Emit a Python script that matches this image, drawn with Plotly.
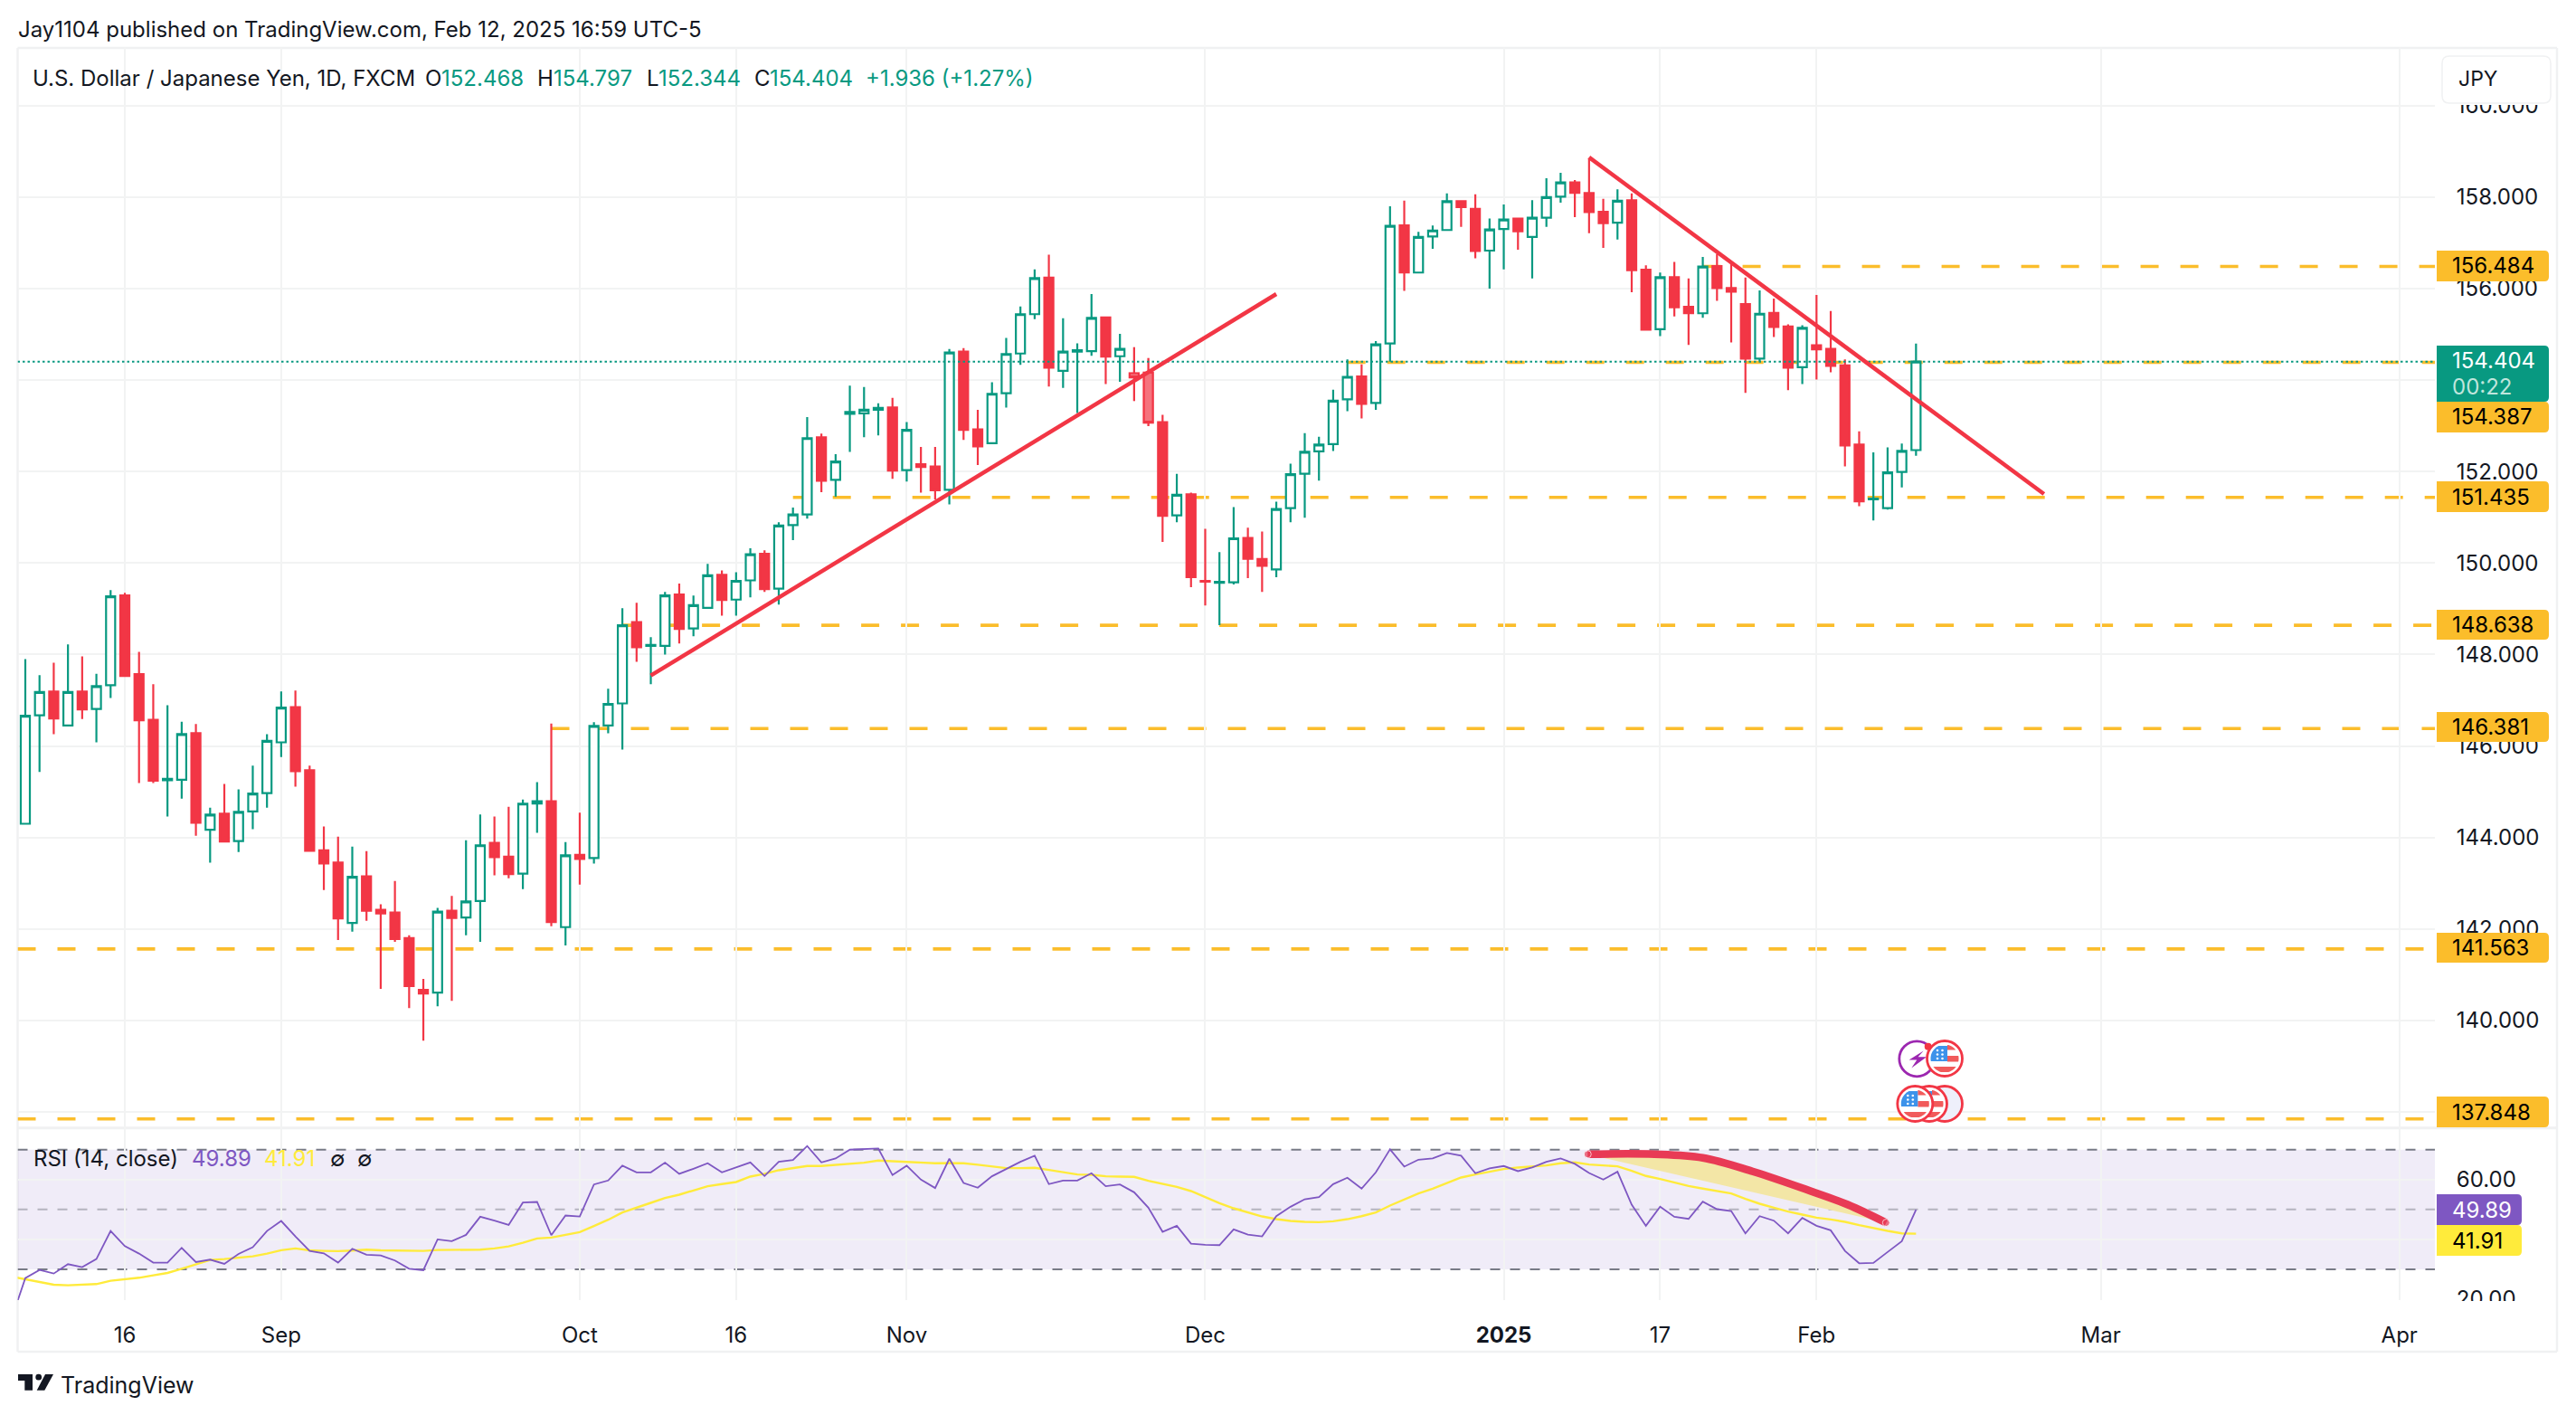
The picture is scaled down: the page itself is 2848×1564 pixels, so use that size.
import math
import plotly.graph_objects as go

W, H = 2848, 1564
# --- data (one bar per FX session, Aug 7 2024 - Feb 12 2025)
opens = [144.30,146.67,147.19,146.45,147.19,146.81,147.33,149.29,147.57,146.57,
145.25,145.26,146.28,144.17,144.52,143.92,144.57,144.97,146.08,146.85,
145.47,143.72,143.45,142.13,143.15,142.42,142.36,141.80,140.67,140.61,
142.40,142.25,142.61,143.88,143.58,143.21,144.74,144.79,142.04,143.62,
143.55,146.45,146.93,148.71,148.19,148.19,149.31,148.57,149.02,149.74,
149.20,149.62,150.20,149.44,150.83,151.06,152.75,151.82,153.26,153.27,
153.35,153.40,152.03,152.16,152.11,151.60,154.62,152.92,152.62,153.71,
154.58,155.44,156.24,154.20,154.62,154.63,155.37,154.52,154.15,154.16,
153.08,151.04,151.50,149.61,149.57,149.58,150.55,150.09,149.86,151.20,
151.95,152.44,152.60,153.58,154.08,153.50,154.80,157.38,156.35,157.14,
157.28,157.91,157.74,156.83,157.30,157.53,157.13,157.55,158.01,158.32,
158.09,157.68,157.44,157.93,156.41,155.11,156.25,155.60,155.46,156.49,
156.01,155.66,154.47,155.47,155.17,154.28,154.76,154.68,154.32,152.59,
151.39,151.20,151.99,152.468]
highs = [147.90,147.55,147.82,148.22,147.96,147.58,149.41,149.35,148.06,147.35,
146.89,146.53,146.48,144.65,145.17,145.05,145.57,146.26,147.19,147.21,
145.57,144.24,144.02,143.80,143.70,142.54,143.05,141.86,140.91,142.46,
142.72,143.94,144.50,144.46,144.67,144.83,145.21,146.49,143.90,144.54,
146.52,147.25,149.01,149.13,148.38,149.37,149.55,149.29,149.98,149.84,
149.80,150.32,150.28,150.89,151.21,153.19,152.83,152.38,153.88,153.85,
153.49,153.61,153.08,152.54,152.54,154.68,154.70,153.35,153.95,154.92,
155.61,156.42,156.74,155.35,154.80,155.88,155.39,155.01,154.72,154.48,
153.24,151.95,151.54,150.75,150.24,151.22,150.77,150.69,151.34,152.17,
152.84,152.76,153.79,154.45,154.34,154.85,157.80,157.92,157.24,157.38,
158.08,157.93,158.06,157.53,157.84,157.54,157.93,158.41,158.53,158.37,
158.85,157.96,158.17,158.08,156.51,156.35,156.58,156.22,156.69,156.75,
156.55,156.24,155.96,155.78,155.22,155.20,155.86,155.51,154.45,152.88,
152.42,152.53,152.61,154.797]
lows = [144.28,145.43,146.26,146.43,146.59,146.08,147.05,147.52,145.19,145.19,
144.46,144.85,144.04,143.45,143.90,143.68,144.18,144.65,145.76,145.11,
143.70,142.85,141.76,141.94,142.18,140.69,141.72,140.27,139.56,140.31,
140.43,141.86,141.72,143.17,143.11,142.87,144.10,142.06,141.64,142.97,
143.43,146.28,145.92,147.84,147.35,148.00,148.24,148.40,149.00,148.85,
148.85,149.25,149.37,149.09,150.50,150.97,151.55,151.45,152.43,152.75,
152.79,151.84,151.78,151.54,151.39,151.28,152.69,152.14,152.60,153.40,
154.33,155.33,153.86,153.83,153.28,154.53,153.91,153.96,153.54,152.99,
150.46,150.89,149.47,149.07,148.64,149.53,149.67,149.37,149.69,150.89,
150.99,151.80,152.45,153.32,153.16,153.35,154.40,155.95,156.33,156.87,
157.26,157.35,156.66,156.00,156.42,156.85,156.22,157.35,157.88,157.56,
157.21,156.89,157.07,155.92,155.09,154.96,155.39,154.77,155.36,155.73,
154.82,153.72,154.41,154.94,153.78,153.91,154.01,154.17,152.11,151.24,
150.93,151.17,151.65,152.344]
closes = [146.66,147.18,146.60,147.18,146.80,147.31,149.27,147.53,146.56,145.24,
145.28,146.26,144.32,144.50,143.91,144.56,144.96,146.11,146.84,145.45,
143.71,143.43,142.23,143.14,142.40,142.34,141.78,140.75,140.59,142.38,
142.24,142.60,143.83,143.57,143.20,144.74,144.79,142.15,143.61,143.53,
146.44,146.92,148.64,148.16,148.21,149.29,148.56,149.08,149.73,149.19,
149.61,150.19,149.43,150.82,151.06,152.73,151.80,152.22,153.30,153.35,
153.39,152.02,152.91,152.10,151.59,154.60,152.91,152.55,153.70,154.57,
155.44,156.23,154.27,154.62,154.65,155.36,154.51,154.68,154.06,153.07,
151.03,151.49,149.69,149.59,149.59,150.54,150.09,149.94,151.18,151.94,
152.43,152.59,153.55,154.07,153.48,154.78,157.37,156.35,157.13,157.27,
157.91,157.78,156.82,157.29,157.51,157.25,157.55,158.00,158.32,158.09,
157.67,157.43,157.92,156.40,155.10,156.25,155.59,155.46,156.48,156.01,
155.93,154.47,155.45,155.16,154.27,155.14,154.67,154.31,152.57,151.35,
151.41,151.98,152.45,154.404]
rsi = [13.0,27.07,29.79,28.58,31.71,30.70,33.43,42.82,37.77,35.25,32.22,
32.22,37.17,32.42,33.23,31.81,35.15,37.37,42.82,46.16,41.01,
36.16,35.35,32.22,36.86,34.84,34.64,32.93,30.20,29.69,40.00,
39.39,41.51,47.57,46.26,44.84,52.32,52.52,41.41,47.98,47.67,
58.38,59.69,64.64,62.42,62.42,65.65,61.92,63.63,65.45,62.42,
64.04,65.75,61.21,65.96,66.56,71.21,65.75,67.07,70.00,70.30,
70.40,61.51,64.64,60.00,57.17,66.97,58.88,57.27,61.11,63.53,
65.96,67.98,58.48,59.69,59.69,62.12,57.77,58.38,55.75,50.60,
42.52,44.54,38.58,38.18,38.08,43.33,41.61,41.01,47.77,50.91,
53.43,54.14,58.48,60.60,56.97,62.42,70.10,64.34,66.66,67.07,
68.88,67.98,62.12,63.73,64.54,62.82,64.04,65.96,67.07,65.25,
62.22,60.00,62.62,51.61,44.54,50.91,47.57,46.86,52.62,50.10,
49.49,42.02,47.77,46.26,42.02,47.17,44.55,43.03,36.16,32.02,
32.12,35.76,39.39,49.89]
rsi_ma = [27.6,26.66,25.85,24.84,24.64,24.74,25.05,26.16,26.56,27.17,27.98,
28.78,30.20,31.71,33.13,33.43,33.83,34.34,35.25,36.36,36.97,
36.36,36.16,36.06,36.26,36.56,36.36,36.36,36.16,36.16,36.46,
36.56,36.56,36.56,36.97,37.67,38.88,40.30,40.60,41.51,42.42,
44.44,46.56,48.99,50.50,52.22,53.83,54.95,56.36,57.77,58.48,
59.19,61.01,61.92,63.13,63.73,64.54,64.54,64.84,65.25,65.65,
66.36,66.16,66.06,65.85,65.45,65.55,65.45,64.95,64.44,63.83,
63.83,63.94,63.23,62.52,61.71,61.61,61.11,61.01,60.91,59.59,
58.48,57.57,56.16,54.04,52.12,50.40,48.99,47.67,46.76,46.16,
45.85,45.75,46.06,46.76,47.77,48.99,51.31,53.43,55.35,56.97,
58.78,60.70,61.71,62.72,63.53,64.04,64.34,64.74,65.45,65.75,
65.05,64.74,64.44,62.93,61.21,60.20,58.99,57.87,56.97,56.16,
55.35,53.53,51.92,50.60,49.29,48.28,47.27,46.67,45.86,44.75,
43.74,42.83,42.02,41.91]
tick_pos = [7,18,39,50,62,83,104,115,126,146,167]
tick_text = ["16","Sep","Oct","16","Nov","Dec","<b>2025</b>","17","Feb","Mar","Apr"]
levels = [156.484,154.387,151.435,148.638,146.381,141.563,137.848]
level_start = [118,93,54,42,37,-0.54,-0.54]
last_price = 154.404
hollow_red_bar = 78
up_trend_x, up_trend_y = [44,88], [147.54,155.88]
down_trend_x, down_trend_y = [110,142], [158.87,151.51]
brush_x = [109.9,114.6,118.0,121.5,125.5,128.2,130.9]
brush_y = [68.48,68.48,67.27,62.72,56.3,51.62,45.56]

GREEN, RED, AMBER, INK, GRID = "#089981", "#f23645", "#fbbd2b", "#131722", "#f2f3f3"
FONT = "Inter"
XR = [-0.54, 169.5]
px = lambda x: x / W
py = lambda y: 1 - y / H
idx = list(range(len(opens)))

fig = go.Figure()
fig.add_trace(go.Candlestick(x=idx, open=opens, high=highs, low=lows, close=closes,
    increasing=dict(line=dict(color=GREEN, width=2.2), fillcolor="#ffffff"),
    decreasing=dict(line=dict(color=RED, width=2.2), fillcolor=RED),
    whiskerwidth=0, xaxis="x", yaxis="y", hoverinfo="skip"))
hb = hollow_red_bar
fig.add_trace(go.Candlestick(x=idx[hb:hb+2], open=opens[hb:hb+2], high=highs[hb:hb+2], low=lows[hb:hb+2], close=closes[hb:hb+2],
    increasing=dict(line=dict(color="rgba(0,0,0,0)", width=0), fillcolor="rgba(0,0,0,0)"),
    decreasing=dict(line=dict(color=RED, width=2.2), fillcolor="#ffffff"),
    whiskerwidth=0, xaxis="x", yaxis="y", hoverinfo="skip", selectedpoints=[0]))
fig.add_trace(go.Scatter(x=XR, y=[last_price, last_price], mode="lines", xaxis="x", yaxis="y",
    line=dict(color=GREEN, width=2, dash="2.5px,3px"), hoverinfo="skip"))
for tx, ty in ((up_trend_x, up_trend_y), (down_trend_x, down_trend_y)):
    fig.add_trace(go.Scatter(x=tx, y=ty, mode="lines", xaxis="x", yaxis="y",
        line=dict(color=RED, width=4.5), hoverinfo="skip"))

rsi_x = [i - 1 for i in range(len(rsi))]
fig.add_trace(go.Scatter(x=brush_x + brush_x[:1], y=brush_y + brush_y[:1], mode="lines", fill="toself",
    fillcolor="#f3e6a6", line=dict(width=0), xaxis="x2", yaxis="y2", hoverinfo="skip"))
fig.add_trace(go.Scatter(x=rsi_x, y=rsi_ma, mode="lines", line=dict(color="#ffeb3b", width=2.4),
    xaxis="x2", yaxis="y2", hoverinfo="skip"))
fig.add_trace(go.Scatter(x=rsi_x, y=rsi, mode="lines", line=dict(color="#7e57c2", width=1.8),
    xaxis="x2", yaxis="y2", hoverinfo="skip"))
fig.add_trace(go.Scatter(x=brush_x, y=brush_y, mode="lines+markers", line=dict(color="#e83a55", width=8.5, shape="spline"),
    marker=dict(size=[8,0,0,0,0,0,8], color="#e83a55"), xaxis="x2", yaxis="y2", hoverinfo="skip"))

shapes = []
def frame(x0, y0, x1, y1, w=2.5):
    shapes.append(dict(type="line", xref="paper", yref="paper", x0=px(x0), y0=py(y0), x1=px(x1), y1=py(y1),
                       line=dict(color="#f0f1f2", width=w), layer="below"))
frame(19.5, 53, 2827, 53); frame(19.5, 1494, 2827, 1494); frame(19.5, 53, 19.5, 1494)
frame(2827, 53, 2827, 1494); frame(19.5, 1246.7, 2827, 1246.7, 3)

for lv, st in zip(levels, level_start):
    shapes.append(dict(type="line", xref="x", yref="y", x0=st, x1=XR[1], y0=lv, y1=lv, layer="below",
                       line=dict(color=AMBER, width=3.6, dash="20px,24px")))
shapes.append(dict(type="rect", xref="x2", yref="y2", x0=XR[0], x1=XR[1], y0=30, y1=70, layer="below",
                   fillcolor="rgba(126,87,194,0.115)", line=dict(width=0)))
for v, c in ((70, "#787b86"), (50, "#b5b4bf"), (30, "#787b86")):
    shapes.append(dict(type="line", xref="x2", yref="y2", x0=XR[0], x1=XR[1], y0=v, y1=v, layer="below",
                       line=dict(color=c, width=2, dash="11px,11px")))

def poly(pts, fill, line=None, lw=0):
    d = "M" + "L".join(f"{px(x):.6f},{py(y):.6f}" for x, y in pts) + "Z"
    shapes.append(dict(type="path", xref="paper", yref="paper", path=d, fillcolor=fill,
                       line=dict(color=line or fill, width=lw), layer="above"))
def disc(cx, cy, r, fill, line=None, lw=0):
    shapes.append(dict(type="circle", xref="paper", yref="paper", x0=px(cx-r), x1=px(cx+r), y0=py(cy+r), y1=py(cy-r),
                       fillcolor=fill, line=dict(color=line or fill, width=lw), layer="above"))
def tag(y0, y1, color, x1=2818, x0=2694, r=5):
    d = (f"M{px(x0)},{py(y0)}L{px(x1-r)},{py(y0)}Q{px(x1)},{py(y0)} {px(x1)},{py(y0+r)}"
         f"L{px(x1)},{py(y1-r)}Q{px(x1)},{py(y1)} {px(x1-r)},{py(y1)}L{px(x0)},{py(y1)}Z")
    shapes.append(dict(type="path", xref="paper", yref="paper", path=d, fillcolor=color, line=dict(width=0), layer="above"))

# clip areas of the scales
shapes.append(dict(type="rect", xref="paper", yref="paper", x0=px(2693), x1=px(2825), y0=py(1492), y1=py(1438),
                   fillcolor="#ffffff", line=dict(width=0), layer="above"))
shapes.append(dict(type="rect", xref="paper", yref="paper", x0=px(2694), x1=px(2825), y0=py(116), y1=py(56),
                   fillcolor="#ffffff", line=dict(width=0), layer="above"))
r = 8
d = (f"M{px(2700+r)},{py(62)}L{px(2820-r)},{py(62)}Q{px(2820)},{py(62)} {px(2820)},{py(62+r)}L{px(2820)},{py(114-r)}"
     f"Q{px(2820)},{py(114)} {px(2820-r)},{py(114)}L{px(2700+r)},{py(114)}Q{px(2700)},{py(114)} {px(2700)},{py(114-r)}"
     f"L{px(2700)},{py(62+r)}Q{px(2700)},{py(62)} {px(2700+r)},{py(62)}Z")
shapes.append(dict(type="path", xref="paper", yref="paper", path=d, fillcolor="#ffffff",
                   line=dict(color="#f0f1f2", width=1.5), layer="above"))

# price tags
tag(277, 311, AMBER); tag(382, 444, GREEN); tag(444, 478, AMBER); tag(532, 566, AMBER)
tag(674, 707, AMBER); tag(787, 820, AMBER); tag(1031, 1064, AMBER); tag(1212, 1246, AMBER)
tag(1320, 1354, "#7e57c2", x1=2788); tag(1354, 1388, "#ffeb3b", x1=2788)

# logo
poly([(20,1519),(36,1519),(36,1536.7),(27.3,1536.7),(27.3,1526),(20,1526)], INK)
disc(42.7, 1522.2, 3.4, INK)
poly([(50,1519),(59,1519),(49.3,1536.7),(40.7,1536.7)], INK)

# event markers
def clip_disc(cx, cy, rad, x0, x1, y0, y1, fill):
    top = max(y0, -rad); bot = min(y1, rad)
    ys = [top + (bot - top) * k / 12 for k in range(13)]
    left, right = [], []
    for y in ys:
        w = math.sqrt(max(rad * rad - y * y, 0))
        a, b = max(x0, -w), min(x1, w)
        if b > a:
            left.append((cx + a, cy + y)); right.append((cx + b, cy + y))
    poly(left + right[::-1], fill)
def flag(cx, cy):
    disc(cx, cy, 19.5, "#ffffff", RED, 2.8)
    rad = 15.5
    for a, b, x0 in ((-16, -9.5, 3), (-3, 3.5, 3), (9, 16, -16)):
        clip_disc(cx, cy, rad, x0, 16, a, b, "#f15b5b")
    clip_disc(cx, cy, rad, -16, 3, -16, 3, "#3d93ea")
    for sy in (-9, -4.5, 0):
        for sx in (-8, -2.5):
            disc(cx + sx, cy + sy, 1.3, "#ffffff")
disc(2119.3, 1170.3, 19.5, "#ffffff", "#9c27b0", 2.8)
poly([(2119.3+a, 1170.3+b) for a, b in ((7.3,-8.7),(-8.7,1.3),(0,1.3),(-6,10.3),(10.7,-2),(1.3,-2))], "#9c27b0")
disc(2131.7, 1156.7, 4, RED)
flag(2150, 1170)
disc(2150, 1220, 19.5, "#eef0fb", RED, 2.8)
flag(2133, 1220)
flag(2117.3, 1220)

ann = []
def txt(x, y, s, color=INK, size=24, anchor="left"):
    ann.append(dict(xref="paper", yref="paper", x=px(x), y=py(y), text=s, showarrow=False, xanchor=anchor,
                    yanchor="middle", font=dict(family=FONT, size=size, color=color), borderpad=0, borderwidth=0))
txt(20, 32, "Jay1104 published on TradingView.com, Feb 12, 2025 16:59 UTC-5")
txt(36, 86, "U.S. Dollar / Japanese Yen, 1D, FXCM")
for x0, lab, x1, val in ((470, "O", 488, "152.468"), (594, "H", 612, "154.797"), (715, "L", 728, "152.344"), (834, "C", 851, "154.404")):
    txt(x0, 86, lab); txt(x1, 86, val, GREEN)
txt(957, 86, "+1.936 (+1.27%)", GREEN)
txt(2718, 87, "JPY", INK, 23)
txt(2711, 294, "156.484", "#000000"); txt(2711, 398, "154.404", "#ffffff"); txt(2711, 427, "00:22", "#bfe5dc")
txt(2711, 461, "154.387", "#000000"); txt(2711, 549, "151.435", "#000000"); txt(2711, 690.5, "148.638", "#000000")
txt(2711, 803.5, "146.381", "#000000"); txt(2711, 1047.5, "141.563", "#000000"); txt(2711, 1229, "137.848", "#000000")
txt(2711, 1337, "49.89", "#ffffff"); txt(2711, 1371, "41.91", "#000000")
txt(37, 1280, "RSI (14, close)"); txt(212, 1280, "49.89", "#7e57c2"); txt(292, 1280, "41.91", "#ffeb3b")
txt(365, 1280, "∅"); txt(395, 1280, "∅")
txt(67, 1530.5, "TradingView", INK, 25)

xcommon = dict(range=XR, showgrid=True, gridcolor=GRID, gridwidth=2, zeroline=False, showline=False, automargin=False,
               tickmode="array", tickvals=tick_pos, ticktext=tick_text, domain=[px(19.5), px(2692)])
ycommon = dict(side="right", showgrid=True, gridcolor=GRID, gridwidth=2, zeroline=False, showline=False, automargin=False,
               ticks="outside", ticklen=18, tickcolor="rgba(0,0,0,0)", tickfont=dict(family=FONT, size=24, color=INK))
fig.update_layout(
    width=W, height=H, margin=dict(l=0, r=0, t=0, b=0), paper_bgcolor="#ffffff", plot_bgcolor="#ffffff",
    showlegend=False, boxgap=0.36, boxgroupgap=0, shapes=shapes, annotations=ann, hovermode=False,
    xaxis=dict(xcommon, anchor="y", showticklabels=False, ticks="", rangeslider=dict(visible=False)),
    xaxis2=dict(xcommon, anchor="y2", matches="x", ticks="outside", ticklen=17, tickcolor="rgba(0,0,0,0)",
                tickfont=dict(family=FONT, size=24, color=INK)),
    yaxis=dict(ycommon, anchor="x", domain=[py(1246.7), py(53)], range=[137.65, 161.26], tick0=0, dtick=2, tickformat=".3f"),
    yaxis2=dict(ycommon, anchor="x2", domain=[py(1437), py(1246.7)], range=[19.7, 77.27], tick0=0, dtick=20, tickformat=".2f"),
)
fig.write_html("out.html", config=dict(displayModeBar=False), post_script="document.body.style.margin='0';")
